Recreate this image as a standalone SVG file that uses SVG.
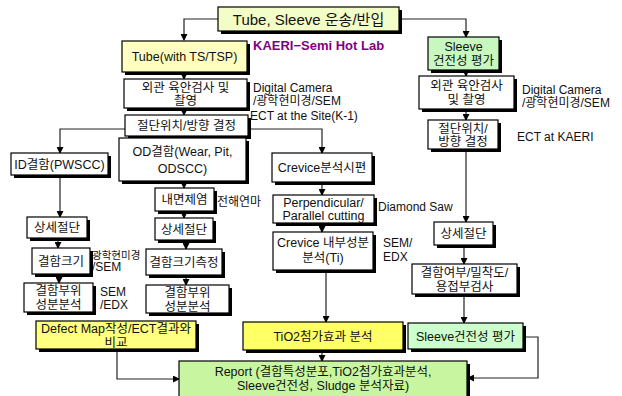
<svg xmlns="http://www.w3.org/2000/svg" width="622" height="396" viewBox="0 0 622 396">
<defs>
<marker id="ah" markerWidth="7" markerHeight="7" refX="6" refY="3.5" orient="auto" markerUnits="userSpaceOnUse">
<path d="M0,0 L7,3.5 L0,7 Z" fill="#000"/>
</marker>
<style>
text{font-family:"Liberation Sans","Noto Sans CJK KR",sans-serif;fill:#111;}
.t{font-size:12.5px;text-anchor:middle;}
.l{font-size:12px;}
.sh{fill:#000;}
.bx{stroke:#000;stroke-width:1.2;}
.w{fill:#fff;}
.c{fill:none;stroke:#222;stroke-width:1.2;marker-end:url(#ah);}
</style>
</defs>
<rect width="622" height="396" fill="#fff"/>

<g id="connectors">
<path class="c" d="M218,19 H184 V40"/>
<path class="c" d="M399,19 H466 V37"/>
<path class="c" d="M184,72 V79"/>
<path class="c" d="M466,70 V76"/>
<path class="c" d="M184,108 V115"/>
<path class="c" d="M466,109 V120"/>
<path class="c" d="M125,129 H60 V153"/>
<path class="c" d="M248,129 H322 V153"/>
<path class="c" d="M184,136 V138"/>
<path class="c" d="M184,181 V188"/>
<path class="c" d="M184,211 V218"/>
<path class="c" d="M60,175 V217"/>
<path class="c" d="M322,182 V195"/>
<path class="c" d="M322,223 V232"/>
<path class="c" d="M466,149 V222"/>
<path class="c" d="M58,238 V248"/>
<path class="c" d="M59,274 V283"/>
<path class="c" d="M186,240 V249"/>
<path class="c" d="M186,275 V285"/>
<path class="c" d="M464,245 V264"/>
<path class="c" d="M464,294 V323"/>
<path class="c" d="M326,270 V322"/>
<path class="c" d="M322,350 V361"/>
<path class="c" d="M117,349 V379 H179"/>
<path class="c" d="M523,337 H538 V378 H468"/>
</g>

<g id="n-top">
<rect class="sh" x="221" y="10" width="181" height="24"/>
<rect class="bx" x="218" y="7" width="181" height="24" fill="#f2fdc8"/>
<text x="308.5" y="24.5" style="font-size:15px;text-anchor:middle">Tube, Sleeve 운송/반입</text>
</g>

<g id="n-kaeri">
<text x="253" y="50" style="font-size:13px;font-weight:bold;fill:#800080">KAERI−Semi Hot Lab</text>
</g>

<g id="n-tube">
<rect class="sh" x="125" y="44" width="125" height="31"/>
<rect class="bx" x="122" y="41" width="125" height="31" fill="#ffffc0"/>
<text class="t" x="184.5" y="61">Tube(with TS/TSP)</text>
</g>

<g id="n-sleeve1">
<rect class="sh" x="431" y="40" width="71" height="33"/>
<rect class="bx" x="428" y="37" width="71" height="33" fill="#c8f8c0"/>
<text class="t" x="463.5" y="51">Sleeve</text>
<text class="t" x="463.5" y="65">건전성 평가</text>
</g>

<g id="n-visual1">
<rect class="sh" x="127" y="82" width="123" height="29"/>
<rect class="bx w" x="124" y="79" width="123" height="29"/>
<text class="t" x="185.5" y="92">외관 육안검사 및</text>
<text class="t" x="185.5" y="105">촬영</text>
<text class="l" x="253" y="92">Digital Camera</text>
<text class="l" x="253" y="105">/광학현미경/SEM</text>
</g>

<g id="n-visual2">
<rect class="sh" x="422" y="79" width="95" height="33"/>
<rect class="bx w" x="419" y="76" width="95" height="33"/>
<text class="t" x="466.5" y="90">외관 육안검사</text>
<text class="t" x="466.5" y="104">및 촬영</text>
<text class="l" x="522" y="94">Digital Camera</text>
<text class="l" x="522" y="107">/광학현미경/SEM</text>
</g>

<g id="n-cut1">
<rect class="sh" x="128" y="118" width="123" height="21"/>
<rect class="bx w" x="125" y="115" width="123" height="21"/>
<text class="t" x="186.5" y="130">절단위치/방향 결정</text>
<text class="l" x="250" y="120">ECT at the Site(K-1)</text>
</g>

<g id="n-cut2">
<rect class="sh" x="431" y="123" width="70" height="29"/>
<rect class="bx w" x="428" y="120" width="70" height="29"/>
<text class="t" x="463" y="133">절단위치/</text>
<text class="t" x="463" y="146">방향 결정</text>
<text class="l" x="517" y="141">ECT at KAERI</text>
</g>

<g id="n-id">
<rect class="sh" x="14" y="156" width="97" height="22"/>
<rect class="bx w" x="11" y="153" width="97" height="22"/>
<text class="t" x="59.5" y="168.5">ID결함(PWSCC)</text>
</g>

<g id="n-od">
<rect class="sh" x="122" y="141" width="127" height="43"/>
<rect class="bx w" x="119" y="138" width="127" height="43"/>
<text class="t" x="182.5" y="156">OD결함(Wear, Pit,</text>
<text class="t" x="182.5" y="173">ODSCC)</text>
</g>

<g id="n-crevice">
<rect class="sh" x="275" y="156" width="100" height="29"/>
<rect class="bx w" x="272" y="153" width="100" height="29"/>
<text class="t" x="322" y="172">Crevice분석시편</text>
</g>

<g id="n-decon">
<rect class="sh" x="158" y="191" width="59" height="23"/>
<rect class="bx w" x="155" y="188" width="59" height="23"/>
<text class="t" x="184.5" y="204">내면제염</text>
<text class="l" x="217" y="206">전해연마</text>
</g>

<g id="n-perp">
<rect class="sh" x="276" y="198" width="101" height="28"/>
<rect class="bx w" x="273" y="195" width="101" height="28"/>
<text class="t" x="323.5" y="207">Perpendicular/</text>
<text class="t" x="323.5" y="220">Parallel cutting</text>
<text class="l" x="378" y="211">Diamond Saw</text>
</g>

<g id="n-detail1">
<rect class="sh" x="30" y="220" width="60" height="21"/>
<rect class="bx w" x="27" y="217" width="60" height="21"/>
<text class="t" x="57" y="232">상세절단</text>
</g>

<g id="n-detail2">
<rect class="sh" x="158" y="221" width="58" height="22"/>
<rect class="bx w" x="155" y="218" width="58" height="22"/>
<text class="t" x="184" y="233.5">상세절단</text>
</g>

<g id="n-crev-int">
<rect class="sh" x="276" y="235" width="100" height="38"/>
<rect class="bx w" x="273" y="232" width="100" height="38"/>
<text class="t" x="323" y="247">Crevice 내부성분</text>
<text class="t" x="323" y="262">분석(Ti)</text>
<text class="l" x="383" y="247">SEM/</text>
<text class="l" x="383" y="261">EDX</text>
</g>

<g id="n-detail3">
<rect class="sh" x="437" y="225" width="59" height="23"/>
<rect class="bx w" x="434" y="222" width="59" height="23"/>
<text class="t" x="463.5" y="238">상세절단</text>
</g>

<g id="n-size1">
<rect class="sh" x="35" y="251" width="58" height="26"/>
<rect class="bx w" x="32" y="248" width="58" height="26"/>
<text class="t" x="61" y="265.5">결함크기</text>
<text x="92" y="259" style="font-size:10.5px">광학현미경</text>
<text class="l" x="92" y="271">/SEM</text>
</g>

<g id="n-size2">
<rect class="sh" x="149" y="252" width="76" height="26"/>
<rect class="bx w" x="146" y="249" width="76" height="26"/>
<text class="t" x="184" y="266.5">결함크기측정</text>
</g>

<g id="n-check">
<rect class="sh" x="415" y="267" width="105" height="30"/>
<rect class="bx w" x="412" y="264" width="105" height="30"/>
<text class="t" x="464.5" y="277">결함여부/밀착도/</text>
<text class="t" x="464.5" y="291">용접부검사</text>
</g>

<g id="n-comp1">
<rect class="sh" x="27" y="286" width="69" height="29"/>
<rect class="bx w" x="24" y="283" width="69" height="29"/>
<text class="t" x="58.5" y="295">결함부위</text>
<text class="t" x="58.5" y="309">성분분석</text>
<text class="l" x="100" y="296">SEM</text>
<text class="l" x="100" y="309">/EDX</text>
</g>

<g id="n-comp2">
<rect class="sh" x="149" y="288" width="83" height="28"/>
<rect class="bx w" x="146" y="285" width="83" height="28"/>
<text class="t" x="187.5" y="297">결함부위</text>
<text class="t" x="187.5" y="311">성분분석</text>
</g>

<g id="n-defect">
<rect class="sh" x="39" y="324" width="160" height="28"/>
<rect class="bx" x="36" y="321" width="160" height="28" fill="#ffff80"/>
<text class="t" x="116" y="333">Defect Map작성/ECT결과와</text>
<text class="t" x="116" y="347">비교</text>
</g>

<g id="n-tio2">
<rect class="sh" x="246" y="325" width="160" height="28"/>
<rect class="bx" x="243" y="322" width="160" height="28" fill="#ffff66"/>
<text class="t" x="323" y="340.5">TiO2첨가효과 분석</text>
</g>

<g id="n-sleeve2">
<rect class="sh" x="411" y="326" width="115" height="26"/>
<rect class="bx" x="408" y="323" width="115" height="26" fill="#ccffcc"/>
<text class="t" x="465.5" y="340.5">Sleeve건전성 평가</text>
</g>

<g id="n-report">
<rect class="sh" x="182" y="364" width="288" height="36"/>
<rect class="bx" x="179" y="361" width="288" height="36" fill="#c8f5a0"/>
<text class="t" x="323" y="376">Report (결함특성분포,TiO2첨가효과분석,</text>
<text class="t" x="323" y="390">Sleeve건전성, Sludge 분석자료)</text>
</g>
</svg>
